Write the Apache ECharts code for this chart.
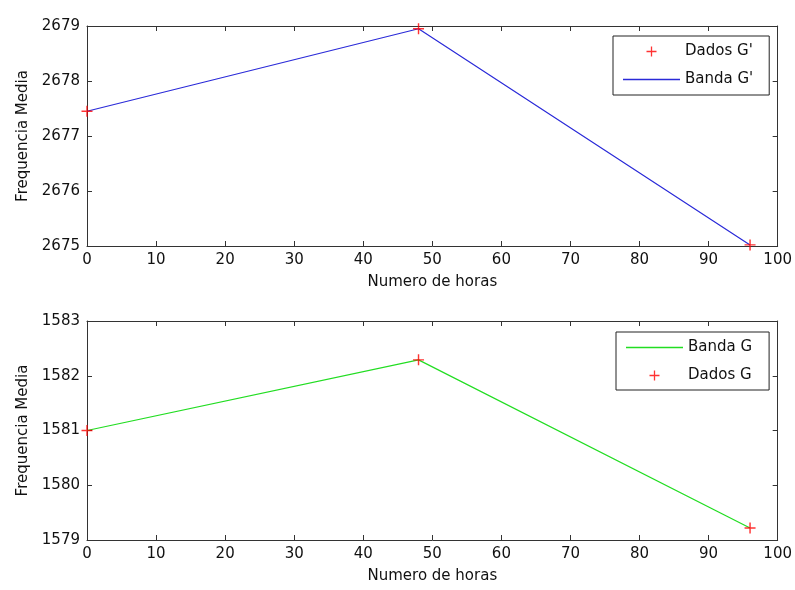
<!DOCTYPE html>
<html>
<head>
<meta charset="utf-8">
<script src="https://cdn.jsdelivr.net/npm/echarts@6/dist/echarts.min.js"></script>
<style>
html,body{margin:0;padding:0;background:#fff;}
#c{width:795px;height:590px;}
</style>
</head>
<body>
<div id="c"></div>
<script>
// Data
const hours = [0, 48, 96];
const freqGprime = [2677.45, 2678.95, 2675.02];
const freqG = [1581.0, 1582.29, 1579.22];
const xTicks = {min: 0, max: 100, interval: 10};
const yTopTicks = {min: 2675, max: 2679, interval: 1};
const yBotTicks = {min: 1579, max: 1583, interval: 1};
const xTitle = 'Numero de horas';
const yTitle = 'Frequencia Media';

const FONT = 'DejaVu Sans';
const FS = 15;
const CROSS = 'path://M4.35,0H5.65V4.35H10V5.65H5.65V10H4.35V5.65H0V4.35H4.35Z';
const LINEICON = 'path://M0,0H57V1.3H0Z';

const pairs = (xs, ys) => xs.map((x, i) => [x, ys[i]]);

function xAxisDef(gi, pos, show) {
  return {
    type: 'value', gridIndex: gi, position: pos,
    min: xTicks.min, max: xTicks.max, interval: xTicks.interval,
    name: show ? xTitle : '', nameLocation: 'middle', nameGap: 29,
    nameTextStyle: {fontFamily: FONT, fontSize: FS, color: '#111'},
    axisLine: {show: true, onZero: false, lineStyle: {color: '#333', width: 1}},
    axisTick: {show: true, inside: true, length: 5, lineStyle: {color: '#333'}},
    axisLabel: {show: show, margin: 7, fontFamily: FONT, fontSize: FS, color: '#111',
                formatter: v => String(v)},
    splitLine: {show: false}
  };
}
function yAxisDef(gi, pos, show, t) {
  return {
    type: 'value', gridIndex: gi, position: pos,
    min: t.min, max: t.max, interval: t.interval,
    name: show ? yTitle : '', nameLocation: 'middle', nameGap: 56,
    nameTextStyle: {fontFamily: FONT, fontSize: FS, color: '#111'},
    axisLine: {show: true, onZero: false, lineStyle: {color: '#333', width: 1}},
    axisTick: {show: true, inside: true, length: 5, lineStyle: {color: '#333'}},
    axisLabel: {show: show, margin: 7, fontFamily: FONT, fontSize: FS, color: '#111',
                formatter: v => String(v)},
    splitLine: {show: false}
  };
}

const chart = echarts.init(document.getElementById('c'), null, {renderer: 'canvas'});
chart.setOption({
  animation: false,
  backgroundColor: '#fff',
  grid: [
    {left: 87, right: 17, top: 26, height: 220},
    {left: 87, right: 17, top: 321, height: 219}
  ],
  xAxis: [
    xAxisDef(0, 'bottom', true), xAxisDef(0, 'top', false),
    xAxisDef(1, 'bottom', true), xAxisDef(1, 'top', false)
  ],
  yAxis: [
    yAxisDef(0, 'left', true, yTopTicks), yAxisDef(0, 'right', false, yTopTicks),
    yAxisDef(1, 'left', true, yBotTicks), yAxisDef(1, 'right', false, yBotTicks)
  ],
  legend: [
    {
      left: 613, top: 36, orient: 'vertical',
      itemWidth: 57, itemHeight: 10, itemGap: 13,
      padding: [8, 16, 8, 10],
      borderColor: '#222', borderWidth: 1, backgroundColor: '#fff',
      textStyle: {fontFamily: FONT, fontSize: FS, color: '#111'},
      data: [{name: "Dados G'", icon: CROSS}, {name: "Banda G'", icon: LINEICON}]
    },
    {
      left: 616, top: 332, orient: 'vertical',
      itemWidth: 57, itemHeight: 10, itemGap: 13,
      padding: [8, 17, 7, 10],
      borderColor: '#222', borderWidth: 1, backgroundColor: '#fff',
      textStyle: {fontFamily: FONT, fontSize: FS, color: '#111'},
      data: [{name: 'Banda G', icon: LINEICON}, {name: 'Dados G', icon: CROSS}]
    }
  ],
  series: [
    {
      name: "Dados G'", type: 'scatter', xAxisIndex: 0, yAxisIndex: 0,
      data: pairs(hours, freqGprime), symbol: CROSS, symbolSize: 11,
      itemStyle: {color: '#ff0000'}, z: 3
    },
    {
      name: "Banda G'", type: 'line', xAxisIndex: 0, yAxisIndex: 0,
      data: pairs(hours, freqGprime), symbol: 'none',
      lineStyle: {color: '#2a2ad8', width: 1.2}, itemStyle: {color: '#2a2ad8'}, z: 2
    },
    {
      name: 'Banda G', type: 'line', xAxisIndex: 2, yAxisIndex: 2,
      data: pairs(hours, freqG), symbol: 'none',
      lineStyle: {color: '#22dd22', width: 1.2}, itemStyle: {color: '#22dd22'}, z: 2
    },
    {
      name: 'Dados G', type: 'scatter', xAxisIndex: 2, yAxisIndex: 2,
      data: pairs(hours, freqG), symbol: CROSS, symbolSize: 11,
      itemStyle: {color: '#ff0000'}, z: 3
    }
  ]
});
</script>
</body>
</html>
